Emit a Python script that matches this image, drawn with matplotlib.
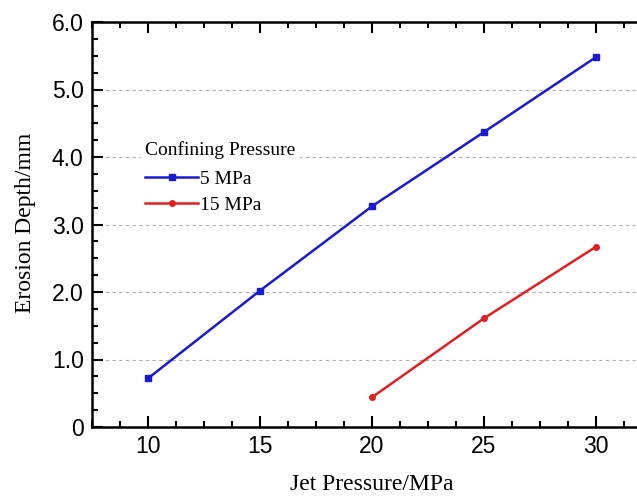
import matplotlib
matplotlib.use("Agg")
import matplotlib.pyplot as plt
from matplotlib.ticker import MultipleLocator, FixedLocator, FixedFormatter

# data
jet_5 = [10, 15, 20, 25, 30]
depth_5 = [0.72, 2.02, 3.27, 4.37, 5.48]
jet_15 = [20, 25, 30]
depth_15 = [0.44, 1.61, 2.67]
yticks = [0, 1, 2, 3, 4, 5, 6]
ylabels = ["0", "1.0", "2.0", "3.0", "4.0", "5.0", "6.0"]

BLUE = "#1a1ad0"
RED = "#e02020"
SERIF = "Liberation Serif"
SANS = "Liberation Sans"

fig = plt.figure(figsize=(6.37, 4.97), dpi=100)
# axes run past the right edge of the picture, as in the reference crop
ax = fig.add_axes([92 / 637, 70 / 497, 560 / 637, 405 / 497])

ax.plot(jet_5, depth_5, "-s", color=BLUE, lw=1.8, ms=4, label="5 MPa", zorder=3)
ax.plot(jet_15, depth_15, "-o", color=RED, lw=1.8, ms=4, label="15 MPa", zorder=3)

ax.set_xlim(7.5, 32.5)
ax.set_ylim(0, 6)
ax.xaxis.set_major_locator(MultipleLocator(5))
ax.xaxis.set_minor_locator(MultipleLocator(1.25))
ax.yaxis.set_major_locator(FixedLocator(yticks))
ax.yaxis.set_major_formatter(FixedFormatter(ylabels))
ax.yaxis.set_minor_locator(MultipleLocator(0.25))

ax.grid(axis="y", which="major", ls=(0, (3, 3)), color="#b0b0b0", lw=0.8)
ax.set_axisbelow(True)

ax.tick_params(which="both", direction="in", top=True, right=True, width=1.5)
ax.tick_params(which="major", length=8, labelsize=16.5, pad=6)
ax.tick_params(which="minor", length=4)
for lab in ax.get_xticklabels() + ax.get_yticklabels():
    lab.set_family(SANS)
for s in ax.spines.values():
    s.set_linewidth(1.8)

ax.set_xlabel("Jet Pressure/MPa", family=SERIF, fontsize=17, labelpad=11)
ax.set_ylabel("Erosion Depth/mm", family=SERIF, fontsize=17)
ax.yaxis.set_label_coords(-0.10, 0.505)

leg = ax.legend(title="Confining Pressure", loc="upper left",
                bbox_to_anchor=(0.071, 0.74), frameon=True, facecolor="white",
                edgecolor="none", framealpha=1, fancybox=False,
                prop={"family": SERIF, "size": 14}, handlelength=2.7,
                handletextpad=0.1, labelspacing=0.45, borderpad=0.2)
leg.get_title().set_family(SERIF)
leg.get_title().set_fontsize(14)
leg._legend_box.align = "left"
leg._legend_box.sep = 8  # extra gap under the title

fig.savefig("out.png", dpi=100)
